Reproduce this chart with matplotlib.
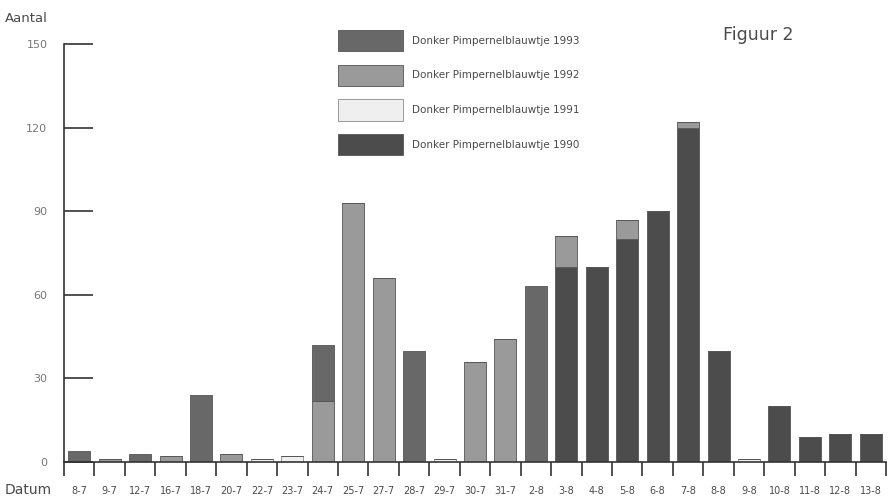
import numpy as np
import matplotlib.pyplot as plt
from matplotlib.patches import Patch

# Aantal waarnemingen Donker Pimpernelblauwtje per datum en jaar
datums = ['8-7', '9-7', '12-7', '16-7', '18-7', '20-7', '22-7', '23-7', '24-7',
          '25-7', '27-7', '28-7', '29-7', '30-7', '31-7', '2-8', '3-8', '4-8',
          '5-8', '6-8', '7-8', '8-8', '9-8', '10-8', '11-8', '12-8', '13-8']
jaar_1990 = [0, 0, 0, 0, 0, 0, 0, 0, 0, 0, 0, 0, 0, 0, 0, 0, 70, 70, 80, 90, 120, 40, 0, 20, 9, 10, 10]
jaar_1991 = [0, 0, 0, 0, 0, 0, 1, 2, 0, 0, 0, 0, 1, 0, 0, 0, 0, 0, 0, 0, 0, 0, 1, 0, 0, 0, 0]
jaar_1992 = [0, 1, 0, 2, 0, 3, 0, 0, 22, 93, 66, 0, 0, 36, 44, 0, 11, 0, 7, 0, 2, 0, 0, 0, 0, 0, 0]
jaar_1993 = [4, 0, 3, 0, 24, 0, 0, 0, 20, 0, 0, 40, 0, 0, 0, 63, 0, 0, 0, 0, 0, 0, 0, 0, 0, 0, 0]
y_ticks = [0, 30, 60, 90, 120, 150]

kleuren = {'1993': '#686868', '1992': '#9a9a9a', '1991': '#efefef', '1990': '#4c4c4c'}
tekst = '#4a4a4a'

fig = plt.figure(figsize=(8.89, 4.99), dpi=100)
ax = fig.add_axes([64 / 889, 1 - 462 / 499, 822 / 889, 418 / 499])

x = np.arange(len(datums))
w = 0.72
onder = np.zeros(len(datums))
for jaar, waarden in [('1990', jaar_1990), ('1991', jaar_1991), ('1992', jaar_1992), ('1993', jaar_1993)]:
    waarden = np.array(waarden, dtype=float)
    rand = '#8a8a8a' if jaar == '1991' else '#555555'
    ax.bar(x, waarden, w, bottom=onder, color=kleuren[jaar], edgecolor=rand, linewidth=0.6)
    onder += waarden

ax.set_xlim(-0.5, len(datums) - 0.5)
ax.set_ylim(0, 150)
for s in ['top', 'right']:
    ax.spines[s].set_visible(False)
for s in ['left', 'bottom']:
    ax.spines[s].set_color('#333333')
    ax.spines[s].set_linewidth(1.2)

ax.set_yticks(y_ticks)
ax.set_yticklabels([str(v) for v in y_ticks], fontsize=8, color='#777777')
ax.tick_params(axis='y', direction='in', length=21, width=1.2, color='#333333', pad=12)

# x-ticks op de grenzen, labels in het midden
ax.set_xticks(np.arange(len(datums) + 1) - 0.5)
ax.set_xticklabels([])
ax.set_xticks(x, minor=True)
ax.set_xticklabels(datums, minor=True, fontsize=7, color=tekst)
ax.tick_params(axis='x', which='major', direction='out', length=10, width=1.2, color='#333333')
ax.tick_params(axis='x', which='minor', length=0, pad=17)

fig.text(5 / 889, 1 - 490 / 499, 'Datum', fontsize=10, color=tekst, va='center')
fig.text(5 / 889, 1 - 19 / 499, 'Aantal', fontsize=9.5, color=tekst, va='center')
fig.text(723 / 889, 1 - 35 / 499, 'Figuur 2', fontsize=12.5, color=tekst, va='center')

handles = [Patch(facecolor=kleuren[j], edgecolor='#8a8a8a' if j == '1991' else '#555555', linewidth=0.6)
           for j in ['1993', '1992', '1991', '1990']]
labels = ['Donker Pimpernelblauwtje ' + j for j in ['1993', '1992', '1991', '1990']]
fig.legend(handles, labels, loc='upper left', bbox_to_anchor=(338 / 889, 1 - 30 / 499),
           frameon=False, fontsize=7.5, labelcolor=tekst, handlelength=6.2, handleheight=2.75,
           labelspacing=1.3, handletextpad=0.9, borderpad=0, borderaxespad=0)

fig.savefig('out.png', dpi=100)
